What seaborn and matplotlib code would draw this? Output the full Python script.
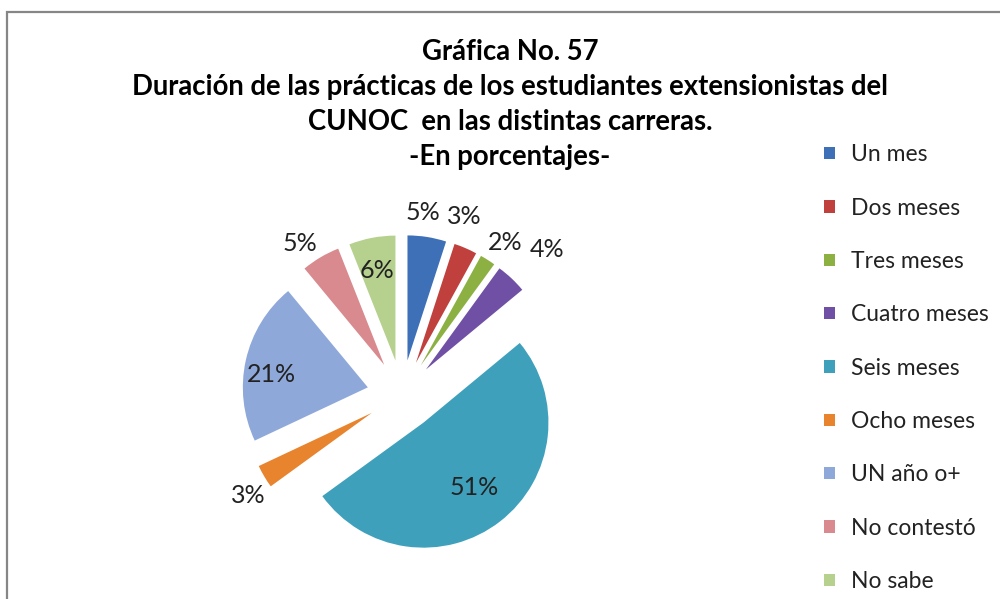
import numpy as np
import matplotlib
matplotlib.use("Agg")
import matplotlib.pyplot as plt
from matplotlib.patches import Rectangle
import seaborn as sns

# data (percent)
categorias = ["Un mes", "Dos meses", "Tres meses", "Cuatro meses", "Seis meses",
              "Ocho meses", "UN año o+", "No contestó", "No sabe"]
porcentajes = [5, 3, 2, 4, 51, 3, 21, 5, 6]
etiquetas = ["5%", "3%", "2%", "4%", "51%", "3%", "21%", "5%", "6%"]

colores = ["#3E70B8", "#C0403E", "#8DB043", "#7050A4", "#3FA0BC",
           "#E8832E", "#8FA8DA", "#D98A8E", "#B6D08E"]
# label placement: distance (x radius) from the exploded wedge, and angle nudge in degrees
dist_etiqueta = [1.19, 1.23, 1.19, 1.36, 0.66, 1.19, 0.78, 1.18, 0.74]
giro_etiqueta = [3, 5, -2, -2, 0, 3, 5, 4, 1]

titulo = ["Gráfica No. 57",
          "Duración de las prácticas de los estudiantes extensionistas del",
          "CUNOC  en las distintas carreras.",
          "-En porcentajes-"]

sns.set_theme(style="white")
plt.rcParams['font.family'] = ['Lato', 'DejaVu Sans']

W, H = 1000, 599
fig = plt.figure(figsize=(W / 100, H / 100), dpi=100)
ax = fig.add_axes([0, 0, 1, 1])

cx, cy, r = 402, H - 395, 125
sep = 0.28 * r  # matplotlib explode is an absolute offset
wedges, _ = ax.pie(porcentajes, colors=colores, startangle=90, counterclock=False,
                   explode=[sep] * len(porcentajes), radius=r, center=(cx, cy),
                   frame=True, wedgeprops=dict(linewidth=0))
ax.set_xlim(0, W)
ax.set_ylim(0, H)
ax.set_axis_off()

# percentage labels
for w, txt, d, g in zip(wedges, etiquetas, dist_etiqueta, giro_etiqueta):
    ang = np.deg2rad((w.theta1 + w.theta2) / 2 + g)
    x0, y0 = w.center
    ax.text(x0 + d * r * np.cos(ang), y0 + d * r * np.sin(ang), txt,
            ha="center", va="center", fontsize=18, color="#222222")

for i, linea in enumerate(titulo):
    fig.text(0.51, 1 - (52 + 35 * i) / H, linea, ha="center", va="center",
             fontsize=19.8, fontweight="bold", color="black")

leg = fig.legend(wedges, categorias, loc="upper left", bbox_to_anchor=(0.813, 1 - 133 / H),
                 frameon=False, fontsize=16.5, handlelength=0.45, handleheight=0.45,
                 handletextpad=0.7, labelspacing=1.41, borderpad=0)
for t in leg.get_texts():
    t.set_color("#222222")

fig.patches.append(Rectangle((7 / W, -0.1), 1.2, 1 - 12 / H + 0.1, transform=fig.transFigure,
                             fill=False, edgecolor="#868686", linewidth=1.6))

fig.savefig("out.png", dpi=100, facecolor="white")
